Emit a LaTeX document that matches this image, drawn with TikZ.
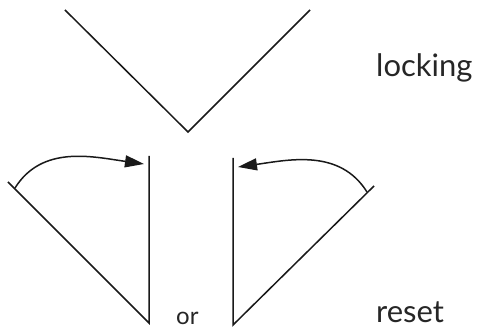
\documentclass[tikz,border=0pt]{standalone}
\usepackage{fontspec}
\setmainfont{Lato}
\usetikzlibrary{arrows.meta}
\begin{document}
\begin{tikzpicture}[x=1pt,y=1pt,
  ln/.style={line width=1.5pt,line cap=butt,draw=black!90},
  arr/.style={ln,-{Triangle[length=19pt,width=12pt]}},
  lbl/.style={inner sep=0pt,anchor=base west,font=\fontsize{31}{33}\selectfont,text=black!85},
  small/.style={inner sep=0pt,anchor=base west,font=\fontsize{24}{26}\selectfont,text=black!85}]
\useasboundingbox (0,0) rectangle (478,331);
% top V
\coordinate (vl) at (65,321);
\coordinate (vb) at (188,199);
\coordinate (vr) at (310,321);
\draw[ln] (vl) -- (vb) -- (vr);
% left reset shape
\coordinate (ld) at (8,149);
\coordinate (lb) at (149,8);
\coordinate (lv) at (149,175);
\draw[ln] (ld) -- (lb) -- (lv);
\coordinate (las) at (15,143);
\coordinate (lat) at (144,167);
\draw[arr] (las) to[out=58,in=172] (lat);
% right reset shape
\coordinate (rb) at (233,6);
\coordinate (rv) at (233,173);
\coordinate (rd) at (374,145);
\draw[ln] (rv) -- (rb) -- (rd);
\coordinate (ras) at (367,139);
\coordinate (rat) at (238,164);
\draw[arr] (ras) to[out=122,in=8] (rat);
% labels
\node[lbl] (locking) at (376,254) {locking};
\node[lbl] (reset) at (376,8) {reset};
\node[small] (or) at (176,6) {or};
\end{tikzpicture}
\end{document}
